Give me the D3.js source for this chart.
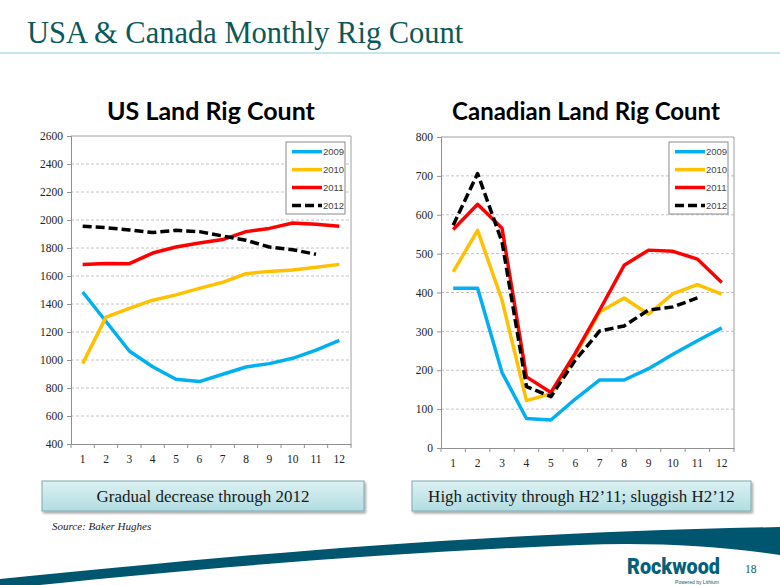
<!DOCTYPE html>
<html>
<head>
<meta charset="utf-8">
<script src="https://cdn.jsdelivr.net/npm/d3@7"></script>
<style>
  html, body { margin: 0; padding: 0; background: #ffffff; }
  svg { display: block; }
</style>
</head>
<body>
<svg id="chart" width="780" height="585"></svg>
<script>
// ---------------- DATA ----------------
const months = [1, 2, 3, 4, 5, 6, 7, 8, 9, 10, 11, 12];
const seriesNames = ["2009", "2010", "2011", "2012"];

const usTicks = [400, 600, 800, 1000, 1200, 1400, 1600, 1800, 2000, 2200, 2400, 2600];
const us2009 = [1486, 1275, 1064, 952, 862, 846, 898, 950, 974, 1012, 1071, 1140];
const us2010 = [974, 1306, 1368, 1427, 1465, 1512, 1555, 1617, 1633, 1643, 1662, 1683];
const us2011 = [1683, 1690, 1688, 1764, 1807, 1836, 1860, 1917, 1940, 1979, 1969, 1955];
const us2012 = [1955, 1945, 1929, 1910, 1926, 1917, 1886, 1855, 1807, 1788, 1755];

const caTicks = [0, 100, 200, 300, 400, 500, 600, 700, 800];
const ca2009 = [411, 411, 194, 76, 72, 126, 175, 175, 204, 241, 276, 309];
const ca2010 = [453, 560, 380, 122, 140, 240, 350, 386, 344, 397, 420, 396];
const ca2011 = [562, 627, 565, 183, 143, 244, 355, 470, 509, 506, 486, 426];
const ca2012 = [573, 706, 530, 158, 132, 226, 301, 314, 355, 363, 386];

const colors = ["#00b0f0", "#ffc000", "#ff0000", "#000000"];
const dashes = [null, null, null, "9,4"];

const mainTitle = "USA & Canada Monthly Rig Count";
const usTitle = "US Land Rig Count";
const caTitle = "Canadian Land Rig Count";
const noteLeft = "Gradual decrease through 2012";
const noteRight = "High activity through H2\u201911; sluggish H2\u201912";
const sourceText = "Source: Baker Hughes";
const pageNum = "18";

// ---------------- DRAW ----------------
const svg = d3.select("#chart");
const defs = svg.append("defs");

// page title
svg.append("text")
  .attr("x", 27).attr("y", 43)
  .attr("font-family", "'Liberation Serif', 'Times New Roman', serif")
  .attr("font-size", 30.5)
  .attr("fill", "#0b5958")
  .text(mainTitle);
svg.append("line")
  .attr("x1", 0).attr("x2", 780).attr("y1", 53).attr("y2", 53)
  .attr("stroke", "#b5dde6").attr("stroke-width", 1.5);

function drawChart(cfg) {
  const g = svg.append("g");
  const x = d3.scaleBand().domain(months).range([cfg.x0, cfg.x1]);
  const y = d3.scaleLinear().domain([cfg.ticks[0], cfg.ticks[cfg.ticks.length - 1]]).range([cfg.y0, cfg.y1]);

  // chart title
  g.append("text")
    .attr("x", cfg.titleX).attr("y", 120)
    .attr("text-anchor", "middle")
    .attr("font-family", "Lato, 'Open Sans', sans-serif")
    .attr("font-weight", "bold")
    .attr("font-size", cfg.titleSize)
    .attr("fill", "#000")
    .text(cfg.title);

  // gridlines
  g.append("g").selectAll("line")
    .data(cfg.ticks.slice(1, -1))
    .join("line")
    .attr("x1", cfg.x0).attr("x2", cfg.x1)
    .attr("y1", d => y(d)).attr("y2", d => y(d))
    .attr("stroke", "#c4c4c4").attr("stroke-width", 1)
    .attr("stroke-dasharray", "3,2");

  // plot frame (top & right)
  g.append("path")
    .attr("d", `M${cfg.x0},${y.range()[1]} H${cfg.x1} V${y.range()[0]}`)
    .attr("fill", "none").attr("stroke", "#a0a0a0").attr("stroke-width", 1);

  // left axis
  const ya = g.append("g")
    .attr("transform", `translate(${cfg.x0},0)`)
    .call(d3.axisLeft(y).tickValues(cfg.ticks).tickSize(4).tickPadding(4).tickFormat(d3.format("d")));
  ya.select(".domain").attr("stroke", "#909090");
  ya.selectAll(".tick line").attr("stroke", "#909090");
  ya.selectAll("text")
    .attr("font-family", "'Liberation Serif', 'Times New Roman', serif")
    .attr("font-size", 11.5).attr("fill", "#222");

  // bottom axis: labels at centers, ticks at band boundaries
  const xa = g.append("g")
    .attr("transform", `translate(0,${cfg.y0})`)
    .call(d3.axisBottom(x).tickSize(0).tickPadding(11));
  xa.select(".domain").attr("stroke", "#909090");
  xa.selectAll("text")
    .attr("font-family", "'Liberation Serif', 'Times New Roman', serif")
    .attr("font-size", 11.5).attr("fill", "#222");
  const bounds = months.map(m => x(m)).concat([x(months[months.length - 1]) + x.bandwidth()]);
  g.append("g").selectAll("line")
    .data(bounds).join("line")
    .attr("x1", d => d).attr("x2", d => d)
    .attr("y1", cfg.y0).attr("y2", cfg.y0 + 4)
    .attr("stroke", "#909090");

  // lines
  const line = d3.line()
    .x((d, i) => x(months[i]) + x.bandwidth() / 2)
    .y(d => y(d));
  cfg.series.forEach((s, k) => {
    g.append("path")
      .datum(s)
      .attr("d", line)
      .attr("fill", "none")
      .attr("stroke", colors[k])
      .attr("stroke-width", 3.5)
      .attr("stroke-linejoin", "round")
      .attr("stroke-dasharray", dashes[k]);
  });

  // legend
  const lg = g.append("g");
  lg.append("rect")
    .attr("x", cfg.legX).attr("y", 142)
    .attr("width", cfg.legW).attr("height", 72)
    .attr("fill", "#fff").attr("stroke", "#8a8a8a").attr("stroke-width", 1);
  seriesNames.forEach((n, k) => {
    const yy = 151.7 + k * 17.9;
    lg.append("line")
      .attr("x1", cfg.legX + 6).attr("x2", cfg.legX + 36)
      .attr("y1", yy).attr("y2", yy)
      .attr("stroke", colors[k]).attr("stroke-width", 3.5)
      .attr("stroke-dasharray", dashes[k]);
    lg.append("text")
      .attr("x", cfg.legX + 37).attr("y", yy + 3.3)
      .attr("font-family", "'Liberation Sans', Arial, sans-serif")
      .attr("font-size", 9.5).attr("fill", "#444")
      .text(n);
  });
}

drawChart({
  x0: 71, x1: 351, y0: 444, y1: 136,
  ticks: usTicks, title: usTitle, titleX: 211, titleSize: 25,
  series: [us2009, us2010, us2011, us2012],
  legX: 286, legW: 59
});
drawChart({
  x0: 441, x1: 734, y0: 448, y1: 137,
  ticks: caTicks, title: caTitle, titleX: 586, titleSize: 24,
  series: [ca2009, ca2010, ca2011, ca2012],
  legX: 669, legW: 59
});

// note boxes
const grad = defs.append("linearGradient").attr("id", "boxg").attr("x1", 0).attr("x2", 0).attr("y1", 0).attr("y2", 1);
grad.append("stop").attr("offset", "0%").attr("stop-color", "#dcf1f2");
grad.append("stop").attr("offset", "100%").attr("stop-color", "#b2dde2");
const shadow = defs.append("filter").attr("id", "shd").attr("x", "-5%").attr("y", "-20%").attr("width", "110%").attr("height", "160%");
shadow.append("feDropShadow").attr("dx", 1.5).attr("dy", 2).attr("stdDeviation", 1.2).attr("flood-color", "#000").attr("flood-opacity", 0.35);

[[42, 322, noteLeft], [412, 339, noteRight]].forEach(([bx, bw, t]) => {
  svg.append("rect")
    .attr("x", bx).attr("y", 481).attr("width", bw).attr("height", 30)
    .attr("fill", "url(#boxg)").attr("stroke", "#7fa9b0").attr("stroke-width", 1)
    .attr("filter", "url(#shd)");
  svg.append("text")
    .attr("x", bx + bw / 2).attr("y", 502)
    .attr("text-anchor", "middle")
    .attr("font-family", "'Liberation Serif', 'Times New Roman', serif")
    .attr("font-size", 17).attr("fill", "#1a1a1a")
    .text(t);
});

svg.append("text")
  .attr("x", 52).attr("y", 530)
  .attr("font-family", "'Liberation Serif', 'Times New Roman', serif")
  .attr("font-style", "italic").attr("font-size", 11).attr("fill", "#222")
  .text(sourceText);

// swoosh
svg.append("path")
  .attr("d", "M0,585 L0,579 C200,560 430,534 780,527 L780,555 C720,546 650,542 580,545 C400,552 200,568 40,585 Z")
  .attr("fill", "#00566e");

// logo + page number
svg.append("text")
  .attr("x", 627).attr("y", 574)
  .attr("font-family", "Roboto, 'Liberation Sans', sans-serif")
  .attr("font-weight", "900").attr("font-size", 22)
  .attr("textLength", 93).attr("lengthAdjust", "spacingAndGlyphs")
  .attr("fill", "#05607a")
  .text("Rockwood");
svg.append("text")
  .attr("x", 719).attr("y", 583.5).attr("text-anchor", "end")
  .attr("font-family", "'Liberation Sans', Arial, sans-serif")
  .attr("font-size", 5).attr("fill", "#05607a")
  .text("Powered by Lithium");
svg.append("text")
  .attr("x", 745).attr("y", 573)
  .attr("font-family", "'Liberation Serif', 'Times New Roman', serif")
  .attr("font-size", 11.5).attr("fill", "#0d5c5b")
  .text(pageNum);
</script>
</body>
</html>
